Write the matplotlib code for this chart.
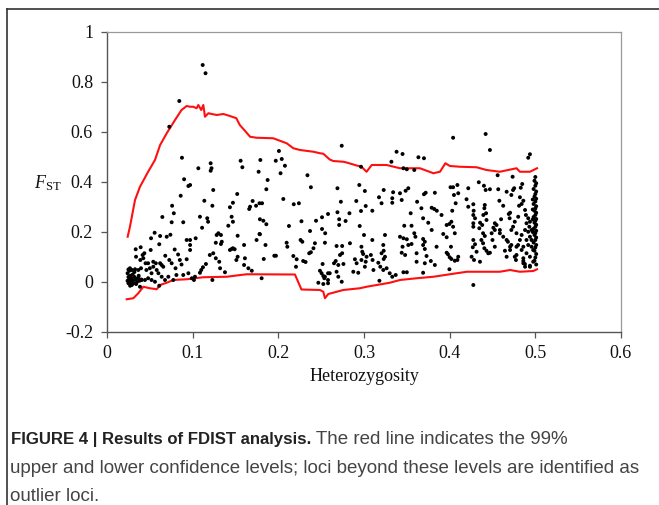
import matplotlib
matplotlib.use("Agg")
import matplotlib.pyplot as plt
from matplotlib.lines import Line2D

# ---------------- data ----------------
# scatter: heterozygosity (x) and FST (y) of each locus
het = [
    # x < 0.1
    0.0844, 0.0727, 0.0875, 0.090, 0.095, 0.086, 0.076, 0.078, 0.0646, 0.0755,
    0.089, 0.0556, 0.062, 0.074, 0.0697, 0.0514, 0.093, 0.061, 0.0335, 0.0393,
    0.0436, 0.0416, 0.0424, 0.0389, 0.0339, 0.054, 0.057, 0.0638, 0.0657, 0.0727,
    0.0755, 0.085, 0.093, 0.0268, 0.029, 0.0327, 0.0365, 0.0397, 0.046, 0.050,
    0.052, 0.058, 0.060,
    0.024, 0.025, 0.024, 0.025, 0.026, 0.027, 0.028, 0.028, 0.029, 0.030,
    0.031, 0.032, 0.033, 0.034, 0.026, 0.027, 0.030, 0.035, 0.036, 0.038,
    0.025, 0.032, 0.029, 0.037, 0.040,
    0.0365, 0.0405, 0.0443, 0.048, 0.052, 0.056, 0.0385, 0.061, 0.0638, 0.0677,
    0.0716, 0.0774, 0.081, 0.089, 0.095,
    0.048, 0.054, 0.062, 0.051, 0.045, 0.068, 0.080, 0.083, 0.087, 0.079,
    # 0.1 - 0.18
    0.1117, 0.115, 0.1066, 0.121, 0.122, 0.121, 0.156, 0.158, 0.177, 0.097,
    0.124, 0.1136, 0.123, 0.152, 0.147, 0.1435, 0.170, 0.167, 0.166, 0.174,
    0.1085, 0.117, 0.118, 0.1455, 0.147, 0.1416, 0.111, 0.1035, 0.130, 0.128,
    0.133, 0.134, 0.127, 0.133, 0.1525, 0.178, 0.1746, 0.097, 0.160, 0.1455,
    0.147, 0.149, 0.1435, 0.124, 0.120, 0.127, 0.131, 0.132, 0.1525, 0.151,
    0.161, 0.160, 0.165, 0.169, 0.1155, 0.112, 0.110, 0.1085, 0.1027, 0.1015,
    0.099, 0.123, 0.1377, 0.097, 0.097,
    # 0.18 - 0.26
    0.2007, 0.197, 0.204, 0.2077, 0.179, 0.2026, 0.234, 0.238, 0.1875, 0.186,
    0.2058, 0.178, 0.181, 0.218, 0.224, 0.1785, 0.1825, 0.186, 0.2124, 0.227,
    0.237, 0.244, 0.251, 0.258, 0.251, 0.2547, 0.1785, 0.226, 0.228, 0.185,
    0.2097, 0.2105, 0.2427, 0.241, 0.238, 0.236, 0.2544, 0.1953, 0.1972, 0.183,
    0.2175, 0.2214, 0.2206, 0.229, 0.2318, 0.2517, 0.2486, 0.2505, 0.2525, 0.2544,
    0.2537, 0.2467, 0.2525, 0.258, 0.258, 0.258, 0.1805,
    # 0.26 - 0.34
    0.274, 0.338, 0.332, 0.2965, 0.269, 0.2945, 0.301, 0.323, 0.3175, 0.3205,
    0.334, 0.333, 0.333, 0.273, 0.269, 0.271, 0.271, 0.291, 0.302, 0.2965,
    0.3097, 0.283, 0.2785, 0.295, 0.300, 0.3245, 0.3097, 0.2836, 0.268, 0.2745,
    0.2745, 0.272, 0.3225, 0.323, 0.3205, 0.3245, 0.323, 0.297, 0.298, 0.299,
    0.303, 0.297, 0.302, 0.301, 0.308, 0.310, 0.267, 0.265, 0.270, 0.276,
    0.2894, 0.2914, 0.2875, 0.2933, 0.311, 0.3167, 0.319, 0.3225, 0.3264, 0.330,
    0.333, 0.337, 0.268, 0.270, 0.274, 0.318, 0.260,
    # 0.34 - 0.42
    0.404, 0.345, 0.3635, 0.370, 0.346, 0.350, 0.3587, 0.401, 0.404, 0.409,
    0.4217, 0.3517, 0.3486, 0.342, 0.344, 0.372, 0.370, 0.3827, 0.362, 0.405,
    0.410, 0.407, 0.403, 0.4197, 0.4217, 0.367, 0.379, 0.382, 0.385, 0.3905,
    0.3545, 0.369, 0.375, 0.379, 0.402, 0.3997, 0.404, 0.3965, 0.406, 0.3965,
    0.347, 0.3555, 0.3925, 0.342, 0.346, 0.350, 0.3587, 0.360, 0.3517, 0.3555,
    0.369, 0.371, 0.369, 0.371, 0.3847, 0.4015, 0.345, 0.348, 0.344, 0.3614,
    0.3965, 0.398, 0.400, 0.402, 0.406, 0.410, 0.409, 0.373, 0.371, 0.378,
    0.3827, 0.3614, 0.3997, 0.346, 0.350, 0.369,
    # 0.42 - 0.5
    0.442, 0.447, 0.4937, 0.4917, 0.456, 0.4735, 0.434, 0.440, 0.442, 0.447,
    0.4567, 0.4753, 0.474, 0.483, 0.4847, 0.4276, 0.428, 0.4276, 0.4296, 0.4276,
    0.4276, 0.441, 0.4405, 0.4425, 0.4393, 0.443, 0.458, 0.4625, 0.482, 0.484,
    0.481, 0.4705, 0.469, 0.4355, 0.438, 0.4346, 0.439, 0.441, 0.437, 0.439,
    0.4527, 0.4547, 0.451, 0.460, 0.4586, 0.4625, 0.468, 0.472, 0.478, 0.4705,
    0.4645, 0.482, 0.484, 0.4276, 0.4296, 0.427, 0.4314, 0.4405, 0.443, 0.445,
    0.447, 0.4256, 0.4284, 0.4354, 0.476, 0.4774, 0.486, 0.4878, 0.4937, 0.4975,
    0.4276,
    0.4665, 0.472, 0.488, 0.486, 0.470, 0.476, 0.480, 0.489, 0.4917, 0.4897,
    0.4937, 0.493, 0.488, 0.4917, 0.4956, 0.4937, 0.4897, 0.4956, 0.4917, 0.4956,
    0.4975, 0.4527, 0.449, 0.4586, 0.4665, 0.474, 0.472, 0.478, 0.4705, 0.4799,
    0.486, 0.484, 0.4897, 0.4937, 0.486, 0.4665, 0.478, 0.486, 0.488, 0.4937,
    0.450, 0.4527,
    # densest column at H ~ 0.5
    0.500, 0.499, 0.501, 0.500, 0.498, 0.501, 0.500, 0.499, 0.501, 0.500,
    0.498, 0.501, 0.500, 0.499, 0.501, 0.500, 0.498, 0.501, 0.500, 0.499,
    0.501, 0.500, 0.498, 0.501, 0.500, 0.499, 0.501, 0.500, 0.498, 0.501,
    0.500, 0.499, 0.501, 0.500, 0.499, 0.501, 0.497, 0.497, 0.497, 0.497,
]
fst = [
    0.724, 0.621, 0.497, 0.411, 0.384, 0.345, 0.305, 0.275, 0.260, 0.239,
    0.239, 0.197, 0.184, 0.189, 0.181, 0.175, 0.168, 0.151, 0.131, 0.139,
    0.115, 0.108, 0.095, 0.088, 0.101, 0.081, 0.075, 0.068, 0.061, 0.088,
    0.075, 0.088, 0.091, 0.055, 0.048, 0.051, 0.048, 0.055, 0.048, 0.055,
    0.035, 0.048, 0.035,
    0.035, 0.020, 0.005, -0.005, 0.010, 0.025, 0.000, -0.010, 0.015, 0.005,
    -0.005, 0.020, 0.010, -0.008, 0.045, -0.015, 0.030, 0.000, 0.015, 0.005,
    0.050, 0.040, -0.012, 0.025, 0.010,
    0.015, 0.008, 0.008, 0.015, 0.008, 0.001, -0.019, -0.015, 0.021, 0.008,
    0.021, 0.008, 0.028, 0.028, 0.035,
    0.075, 0.061, 0.075, 0.128, 0.075, 0.105, 0.055, 0.110, 0.070, 0.130,
    0.868, 0.835, 0.455, 0.475, 0.455, 0.445, 0.485, 0.459, 0.441, 0.388,
    0.368, 0.325, 0.305, 0.352, 0.317, 0.299, 0.324, 0.301, 0.292, 0.305,
    0.261, 0.255, 0.241, 0.261, 0.241, 0.225, 0.217, 0.175, 0.195, 0.188,
    0.188, 0.161, 0.157, 0.152, 0.185, 0.192, 0.168, 0.148, 0.148, 0.132,
    0.135, 0.131, 0.128, 0.115, 0.108, 0.095, 0.081, 0.055, 0.101, 0.088,
    0.095, 0.068, 0.055, 0.045, 0.072, 0.059, 0.048, 0.037, 0.021, 0.008,
    0.015, 0.008, 0.039, 0.168, 0.128,
    0.524, 0.485, 0.492, 0.465, 0.488, 0.435, 0.427, 0.379, 0.408, 0.371,
    0.332, 0.315, 0.315, 0.311, 0.315, 0.251, 0.245, 0.231, 0.224, 0.243,
    0.204, 0.245, 0.259, 0.272, 0.212, 0.195, 0.191, 0.168, 0.161, 0.148,
    0.157, 0.141, 0.155, 0.135, 0.119, 0.115, 0.157, 0.105, 0.105, 0.092,
    0.104, 0.091, 0.061, 0.084, 0.080, 0.072, 0.045, 0.035, 0.024, 0.021,
    0.015, -0.003, -0.008, -0.005, 0.035, 0.008, 0.015,
    0.545, 0.521, 0.481, 0.461, 0.375, 0.388, 0.364, 0.368, 0.339, 0.315,
    0.359, 0.335, 0.317, 0.321, 0.279, 0.251, 0.228, 0.324, 0.304, 0.284,
    0.285, 0.275, 0.244, 0.224, 0.188, 0.188, 0.168, 0.155, 0.144, 0.144,
    0.115, 0.108, 0.148, 0.125, 0.115, 0.101, 0.092, 0.141, 0.121, 0.112,
    0.101, 0.088, 0.081, 0.061, 0.108, 0.088, 0.084, 0.075, 0.068, 0.072,
    0.091, 0.075, 0.041, 0.037, 0.048, 0.077, 0.061, 0.048, 0.055, 0.035,
    0.021, 0.028, 0.041, 0.021, 0.001, 0.005, 0.035,
    0.577, 0.512, 0.499, 0.495, 0.455, 0.451, 0.448, 0.379, 0.379, 0.388,
    0.375, 0.375, 0.365, 0.355, 0.328, 0.357, 0.351, 0.357, 0.321, 0.348,
    0.355, 0.315, 0.285, 0.331, 0.301, 0.295, 0.297, 0.292, 0.285, 0.268,
    0.275, 0.255, 0.237, 0.208, 0.241, 0.232, 0.221, 0.228, 0.195, 0.179,
    0.225, 0.225, 0.192, 0.181, 0.175, 0.171, 0.195, 0.181, 0.148, 0.152,
    0.172, 0.161, 0.148, 0.132, 0.141, 0.141, 0.141, 0.108, 0.117, 0.115,
    0.117, 0.111, 0.099, 0.092, 0.085, 0.101, 0.088, 0.104, 0.075, 0.084,
    0.068, 0.081, 0.051, 0.039, 0.039, 0.037,
    0.592, 0.528, 0.511, 0.497, 0.427, 0.421, 0.399, 0.385, 0.368, 0.371,
    0.371, 0.375, 0.368, 0.377, 0.392, 0.311, 0.285, 0.268, 0.255, 0.235,
    0.221, 0.308, 0.295, 0.275, 0.268, 0.248, 0.325, 0.305, 0.339, 0.312,
    0.305, 0.277, 0.272, 0.237, 0.228, 0.215, 0.195, 0.184, 0.168, 0.155,
    0.235, 0.228, 0.217, 0.251, 0.195, 0.181, 0.161, 0.148, 0.141, 0.128,
    0.125, 0.168, 0.188, 0.168, 0.151, 0.139, 0.121, 0.135, 0.125, 0.115,
    0.117, 0.101, 0.088, 0.081, 0.101, 0.088, 0.084, 0.072, 0.065, 0.081,
    -0.012,
    0.361, 0.348, 0.288, 0.325, 0.255, 0.241, 0.261, 0.268, 0.255, 0.235,
    0.241, 0.221, 0.208, 0.201, 0.208, 0.181, 0.168, 0.168, 0.148, 0.141,
    0.128, 0.208, 0.195, 0.208, 0.168, 0.221, 0.208, 0.195, 0.141, 0.148,
    0.141, 0.128, 0.115, 0.101, 0.095, 0.101, 0.108, 0.075, 0.061, 0.061,
    0.168, 0.141,
    0.420, 0.405, 0.395, 0.385, 0.372, 0.362, 0.352, 0.342, 0.333, 0.322,
    0.312, 0.303, 0.294, 0.285, 0.277, 0.268, 0.260, 0.252, 0.245, 0.237,
    0.229, 0.221, 0.213, 0.205, 0.196, 0.188, 0.178, 0.168, 0.158, 0.148,
    0.138, 0.125, 0.112, 0.098, 0.085, 0.070, 0.290, 0.250, 0.200, 0.330,
]

# 99% upper confidence level
upper_het = [0.0241, 0.0268, 0.0327, 0.0385, 0.048, 0.056, 0.062, 0.0697, 0.0794, 0.087,
             0.093, 0.097, 0.1007, 0.1046, 0.1066, 0.110, 0.1124, 0.1144, 0.1183, 0.128,
             0.1358, 0.1435, 0.151, 0.155, 0.161, 0.167, 0.1746, 0.194, 0.2097, 0.2175,
             0.2253, 0.241, 0.2486, 0.2525, 0.260, 0.264, 0.2758, 0.2797, 0.2914, 0.297,
             0.303, 0.309, 0.3264, 0.342, 0.3653, 0.381, 0.3887, 0.395, 0.4003, 0.412,
             0.4314, 0.443, 0.4586, 0.478, 0.482, 0.4937, 0.502]
upper_fst = [0.181, 0.221, 0.328, 0.381, 0.441, 0.488, 0.548, 0.595, 0.648, 0.688,
             0.704, 0.701, 0.701, 0.695, 0.708, 0.688, 0.708, 0.661, 0.675, 0.668,
             0.672, 0.664, 0.655, 0.628, 0.605, 0.581, 0.577, 0.575, 0.555, 0.535,
             0.528, 0.521, 0.515, 0.513, 0.490, 0.484, 0.481, 0.478, 0.466, 0.461,
             0.441, 0.468, 0.468, 0.455, 0.455, 0.435, 0.441, 0.475, 0.464, 0.461,
             0.459, 0.448, 0.441, 0.455, 0.441, 0.441, 0.455]

# 99% lower confidence level
lower_het = [0.023, 0.0307, 0.0365, 0.0424, 0.050, 0.058, 0.062, 0.0697, 0.0774, 0.093,
             0.1124, 0.1397, 0.163, 0.2194, 0.227, 0.2486, 0.2525, 0.2544, 0.2583, 0.2758,
             0.2953, 0.303, 0.330, 0.342, 0.3614, 0.381, 0.4003, 0.420, 0.439, 0.4586,
             0.4705, 0.482, 0.4976, 0.502]
lower_fst = [-0.069, -0.065, -0.045, -0.019, -0.025, -0.029, -0.012, -0.003, 0.008, 0.011,
             0.019, 0.021, 0.031, 0.030, -0.030, -0.032, -0.039, -0.065, -0.048, -0.032,
             -0.025, -0.019, -0.003, 0.008, 0.015, 0.021, 0.031, 0.041, 0.041, 0.041,
             0.048, 0.041, 0.044, 0.051]

x_ticks = [0, 0.1, 0.2, 0.3, 0.4, 0.5, 0.6]
x_tick_labels = ["0", "0.1", "0.2", "0.3", "0.4", "0.5", "0.6"]
y_ticks = [-0.2, 0, 0.2, 0.4, 0.6, 0.8, 1.0]
y_tick_labels = ["-0.2", "0", "0.2", "0.4", "0.6", "0.8", "1"]

caption_bold = "FIGURE 4 | Results of FDIST analysis."
caption_rest = [" The red line indicates the 99%",
                "upper and lower confidence levels; loci beyond these levels are identified as",
                "outlier loci."]

# ---------------- figure ----------------
W, H = 659, 505
plt.rcParams["mathtext.fontset"] = "custom"
plt.rcParams["mathtext.rm"] = "Liberation Serif"
plt.rcParams["mathtext.it"] = "Liberation Serif:italic"

fig = plt.figure(figsize=(W / 100, H / 100), dpi=100)
ax = fig.add_axes([107 / W, 1 - 332 / H, 514 / W, 300 / H])

ax.plot(upper_het, upper_fst, color="#ff1010", lw=1.5, zorder=2)
ax.plot(lower_het, lower_fst, color="#ff1010", lw=1.5, zorder=2)
ax.scatter(het, fst, s=8, color="black", edgecolors="none", zorder=3)

ax.set_xlim(0, 0.6)
ax.set_ylim(-0.2, 1.0)
ax.set_xticks(x_ticks)
ax.set_xticklabels(x_tick_labels)
ax.set_yticks(y_ticks)
ax.set_yticklabels(y_tick_labels)
for lab in ax.get_xticklabels() + ax.get_yticklabels():
    lab.set_family("Liberation Serif")
    lab.set_fontsize(13)
    lab.set_color("#111111")
ax.tick_params(direction="out", length=4, width=0.9, color="#555555")
ax.tick_params(axis="y", pad=6)
ax.tick_params(axis="x", pad=5)

for side in ("left", "bottom"):
    ax.spines[side].set_color("#555555")
    ax.spines[side].set_linewidth(1.0)
for side in ("top", "right"):
    ax.spines[side].set_color("#999999")
    ax.spines[side].set_linewidth(0.9)

ax.set_xlabel("Heterozygosity", family="Liberation Serif", fontsize=13,
              color="#111111", labelpad=5)
fig.text(48 / W, 1 - 183 / H, r"$F_{\mathrm{ST}}$", fontsize=13, ha="center",
         va="center", color="#111111")

# outer frame (top and left edges visible)
fig.add_artist(Line2D([7 / W, 1], [1 - 9 / H, 1 - 9 / H], transform=fig.transFigure,
                      color="#333333", lw=1.2))
fig.add_artist(Line2D([7 / W, 7 / W], [1 - 9 / H, 0], transform=fig.transFigure,
                      color="#333333", lw=1.2))

# caption
bold_size = 12.1
reg_size = 13.5
t1 = fig.text(11 / W, 1 - 444 / H, caption_bold, fontsize=bold_size, fontweight="bold",
              family="Liberation Sans", color="#222222", va="baseline")
fig.canvas.draw()
bb = t1.get_window_extent()
fig.text(bb.x1 / W, 1 - 444 / H, caption_rest[0], fontsize=reg_size,
         family="Liberation Sans", color="#444444", va="baseline")
fig.text(10 / W, 1 - 473 / H, caption_rest[1], fontsize=reg_size,
         family="Liberation Sans", color="#444444", va="baseline")
fig.text(10 / W, 1 - 501 / H, caption_rest[2], fontsize=reg_size,
         family="Liberation Sans", color="#444444", va="baseline")

fig.savefig("out.png", dpi=100)
